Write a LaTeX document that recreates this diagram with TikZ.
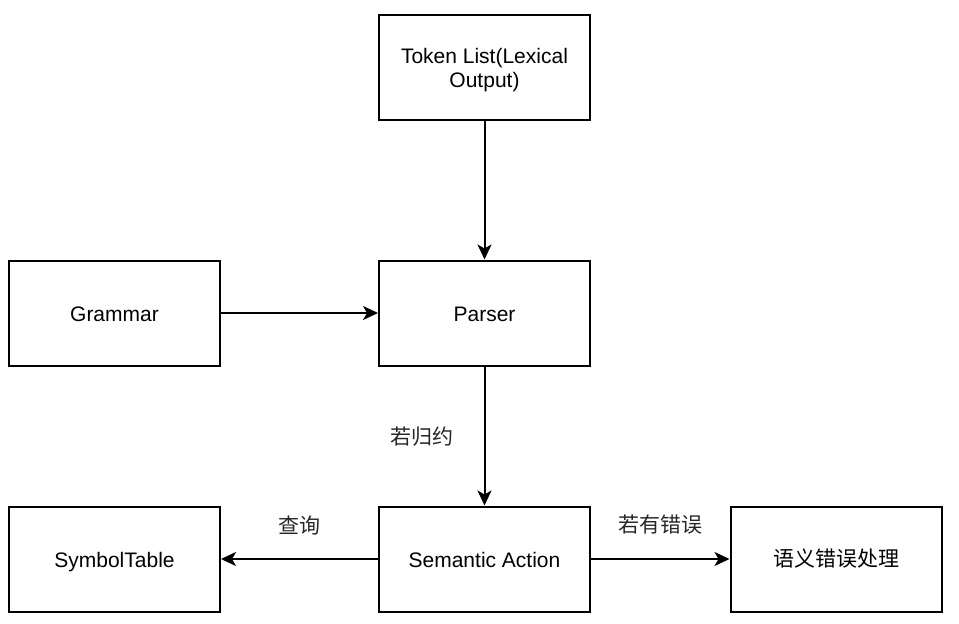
\documentclass[tikz,border=0pt]{standalone}
\usepackage{fontspec}
\setmainfont{Liberation Sans}
\newfontfamily\cjk{Noto Sans CJK SC}
\usetikzlibrary{arrows.meta}
\begin{document}
\begin{tikzpicture}[x=1pt,y=-1pt,
  box/.style={draw=black, line width=2pt, minimum width=211pt, minimum height=105pt, inner sep=2pt, align=center, font=\fontsize{21}{24.4}\selectfont, text=black},
  oneline/.style={text height=20pt, text depth=4pt},
  conn/.style={line width=2pt, -{Stealth[length=15pt,width=14pt,inset=4pt]}},
  lbl/.style={font=\fontsize{21}{25}\selectfont\cjk, text=black!85}]
\useasboundingbox (0,0) rectangle (959,624);
\node[box] (tok) at (484.5,67) {\raisebox{0pt}[\dimexpr\height+7pt\relax][\depth]{\begin{tabular}{@{}c@{}}Token List(Lexical\\Output)\end{tabular}}};
\node[box,oneline] (parser) at (484.5,313) {Parser};
\node[box,oneline] (gram) at (114.5,313) {Grammar};
\node[box,oneline] (sem) at (484.5,559) {Semantic Action};
\node[box,oneline] (sym) at (114.5,559) {SymbolTable};
\node[box] (err) at (836,559) {\cjk 语义错误处理};
\draw[conn] (tok) -- (parser);
\draw[conn] (gram) -- (parser);
\draw[conn] (parser) -- (sem);
\draw[conn] (sem) -- (sym);
\draw[conn] (sem) -- (err);
\node[lbl] (l1) at (421.5,437) {若归约};
\node[lbl] (l2) at (299,525) {查询};
\node[lbl] (l3) at (660,525) {若有错误};
\end{tikzpicture}
\end{document}
